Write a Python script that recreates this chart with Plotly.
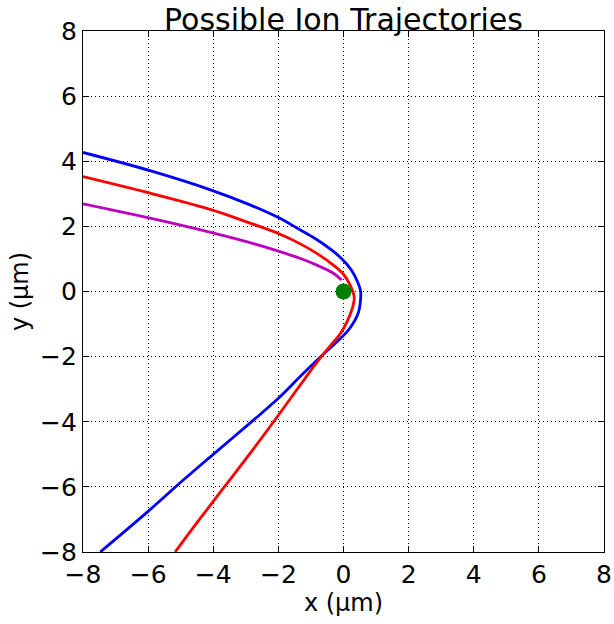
import plotly.graph_objects as go

blue_x = [-8.00, -5.94, -4.02, -2.87, -2.00, -1.36, -0.86, -0.40, -0.07, 0.24, 0.43, 0.52, 0.53,
          0.45, 0.20, -0.15, -0.68, -1.30, -2.00, -2.80, -4.00, -4.92, -6.01, -7.47]
blue_y = [4.27, 3.71, 3.10, 2.66, 2.27, 1.91, 1.62, 1.30, 1.02, 0.66, 0.30, 0.04, -0.15,
          -0.67, -1.12, -1.50, -1.98, -2.58, -3.28, -3.98, -5.00, -5.79, -6.76, -8.00]

red_x = [-8.00, -5.94, -4.02, -2.87, -2.00, -1.34, -0.82, -0.31, 0.00, 0.18, 0.30, 0.33,
         0.27, 0.12, -0.10, -0.40, -0.70, -1.03, -2.00, -2.77, -3.69, -4.50, -5.17]
red_y = [3.53, 3.02, 2.50, 2.10, 1.78, 1.47, 1.17, 0.81, 0.53, 0.24, -0.04, -0.20,
         -0.52, -0.90, -1.30, -1.66, -2.02, -2.46, -3.80, -4.84, -6.04, -7.10, -8.00]

mag_x = [-8.00, -5.94, -4.02, -2.87, -2.00, -1.34, -0.82, -0.31, -0.06]
mag_y = [2.69, 2.25, 1.80, 1.50, 1.24, 1.02, 0.81, 0.56, 0.35]

ion_x = [0.0]
ion_y = [0.0]

tick_vals = [-8, -6, -4, -2, 0, 2, 4, 6, 8]
tick_text = ["\u22128", "\u22126", "\u22124", "\u22122", "0", "2", "4", "6", "8"]

fig = go.Figure()
for xs, ys, col in [(blue_x, blue_y, "#0000ff"), (red_x, red_y, "#ff0000"), (mag_x, mag_y, "#bf00bf")]:
    fig.add_trace(go.Scatter(x=xs, y=ys, mode="lines",
                             line=dict(color=col, width=2.8, shape="spline", smoothing=1.0),
                             showlegend=False, hoverinfo="skip"))
fig.add_trace(go.Scatter(x=ion_x, y=ion_y, mode="markers",
                         marker=dict(color="#008000", size=16, line=dict(color="#008000", width=0)),
                         showlegend=False))

axis_common = dict(range=[-8, 8], tickvals=tick_vals, ticktext=tick_text,
                   showline=True, linecolor="black", linewidth=1.3, mirror="allticks",
                   ticks="inside", ticklen=6, tickwidth=1, tickcolor="black",
                   showgrid=True, gridcolor="black", griddash="1px,3px", gridwidth=1,
                   zeroline=False, tickfont=dict(size=25, color="black"), automargin=False)

fig.update_xaxes(title=dict(text="x (\u00b5m)", font=dict(size=24, color="black"), standoff=4), **axis_common)
fig.update_yaxes(title=dict(text="y (\u00b5m)", font=dict(size=24, color="black"), standoff=4), **axis_common)

fig.update_layout(
    width=614, height=624,
    margin=dict(l=83, r=10, t=31, b=72),
    paper_bgcolor="white", plot_bgcolor="white",
    font=dict(family="DejaVu Sans", color="black"),
    title=dict(text="Possible Ion Trajectories", font=dict(size=30, color="black"),
               x=0.5, xanchor="center", xref="paper", y=1, yref="paper", yanchor="bottom",
               pad=dict(b=1)),
)

fig.write_html("out.html")
